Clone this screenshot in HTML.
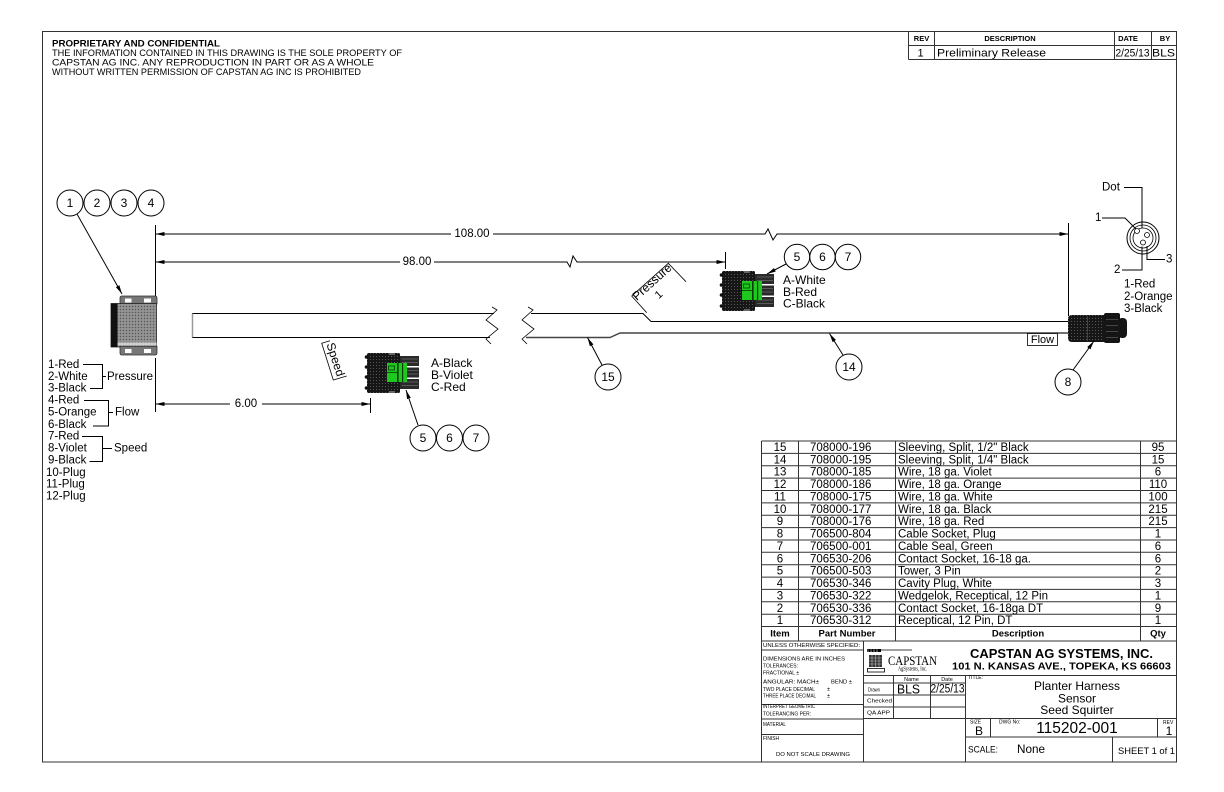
<!DOCTYPE html>
<html><head><meta charset="utf-8">
<style>
html,body{margin:0;padding:0;background:#fff;}
svg{display:block;}
text{font-family:"Liberation Sans",sans-serif;fill:#000;}
.c{text-anchor:middle;}
.m{dominant-baseline:central;}
.ln{stroke:#000;stroke-width:1;fill:none;}
.g{stroke:#333;stroke-width:1;fill:none;}
</style></head><body>
<svg width="1224" height="792" viewBox="0 0 1224 792" xmlns="http://www.w3.org/2000/svg">
<defs>
<marker id="ar" viewBox="0 0 9 4" refX="9" refY="2" markerWidth="9" markerHeight="4" orient="auto" markerUnits="userSpaceOnUse"><path d="M0,0L9,2L0,4z" fill="#000"/></marker>
<pattern id="st" width="3" height="3" patternUnits="userSpaceOnUse"><rect width="3" height="3" fill="#8a8a8a"/><rect width="1" height="1" fill="#555"/><rect x="1.5" y="1.5" width="1" height="1" fill="#b0b0b0"/></pattern>
<pattern id="bk" width="3" height="3" patternUnits="userSpaceOnUse"><rect width="3" height="3" fill="#161616"/><rect width="1" height="1" fill="#555"/></pattern>
<g id="tw">
  <rect x="0" y="0" width="33" height="40" rx="1.5" fill="url(#bk)"/>
  <circle cx="-0.5" cy="4" r="1.8" fill="#111"/>
  <circle cx="-0.5" cy="14" r="1.8" fill="#111"/>
  <circle cx="-0.5" cy="24" r="1.8" fill="#111"/>
  <circle cx="-0.5" cy="35" r="1.8" fill="#111"/>
  <rect x="33" y="3" width="19" height="10" fill="#2a2a2a"/>
  <rect x="33" y="14.5" width="19" height="10" fill="#2a2a2a"/>
  <rect x="33" y="26" width="19" height="10" fill="#2a2a2a"/>
  <path d="M35,6H51M35,9.5H51M35,17.5H51M35,21H51M35,29H51M35,32.5H51" stroke="#8a8a8a" stroke-width="0.6"/>
  <rect x="20" y="10" width="20" height="19" fill="#1ec81e"/>
  <rect x="30" y="10" width="1.6" height="19" fill="#063b06"/>
  <rect x="35" y="10" width="1.2" height="19" fill="#063b06"/>
  <rect x="21.5" y="13" width="6" height="4" fill="none" stroke="#063b06" stroke-width="0.8"/>
  <line x1="20" y1="19.5" x2="30" y2="19.5" stroke="#063b06" stroke-width="0.8"/>
  <rect x="22" y="0" width="6" height="2" fill="#666"/>
  <rect x="22" y="38" width="6" height="2" fill="#666"/>
</g>
</defs>
<rect width="1224" height="792" fill="#fff"/>

<!-- frame -->
<rect x="42.5" y="31.5" width="1134" height="730.5" class="g"/>

<!-- header -->
<text x="52" y="46.5" font-size="9.5" font-weight="bold" textLength="168" lengthAdjust="spacingAndGlyphs">PROPRIETARY AND CONFIDENTIAL</text>
<text x="52" y="56" font-size="9.5" textLength="350" lengthAdjust="spacingAndGlyphs">THE INFORMATION CONTAINED IN THIS DRAWING IS THE SOLE PROPERTY OF</text>
<text x="52" y="65.5" font-size="9.5" textLength="322" lengthAdjust="spacingAndGlyphs">CAPSTAN AG INC. ANY REPRODUCTION IN PART OR AS A WHOLE</text>
<text x="52" y="75" font-size="9.5" textLength="309" lengthAdjust="spacingAndGlyphs">WITHOUT WRITTEN PERMISSION OF CAPSTAN AG INC IS PROHIBITED</text>

<!-- rev block -->
<path class="g" d="M908.5,31.5V59.5M934.5,31.5V59.5M1114.5,31.5V59.5M1151.5,31.5V59.5M908.5,45.5H1176.5M908.5,59.5H1176.5"/>
<text x="921.5" y="41" class="c" font-size="7.5" font-weight="bold">REV</text>
<text x="1010" y="41" class="c" font-size="7.5" font-weight="bold">DESCRIPTION</text>
<text x="1128" y="41" class="c" font-size="7.5" font-weight="bold">DATE</text>
<text x="1165" y="41" class="c" font-size="7.5" font-weight="bold">BY</text>
<text x="920.5" y="56.5" class="c" font-size="11">1</text>
<text x="937" y="56.5" font-size="11" textLength="109" lengthAdjust="spacingAndGlyphs">Preliminary Release</text>
<text x="1115.5" y="56.5" font-size="11" textLength="34" lengthAdjust="spacingAndGlyphs">2/25/13</text>
<text x="1152" y="56.5" font-size="11" textLength="23" lengthAdjust="spacingAndGlyphs">BLS</text>

<!-- balloons 1-4 -->
<g stroke="#000" stroke-width="1" fill="#fff">
<circle cx="70" cy="203" r="13"/><circle cx="97" cy="203" r="13"/><circle cx="124" cy="203" r="13"/><circle cx="151" cy="203" r="13"/>
</g>
<g font-size="12" class="c">
<text x="70" y="203" class="c m">1</text><text x="97" y="203" class="c m">2</text><text x="124" y="203" class="c m">3</text><text x="151" y="203" class="c m">4</text>
</g>
<line x1="77" y1="214" x2="122" y2="294" class="ln" marker-end="url(#ar)"/>

<!-- dimension extension lines -->
<path class="ln" d="M155.5,225V297M155.5,358V412M1068.5,223V316M725.5,252V269M370.5,398V413"/>
<!-- 108 -->
<line x1="451" y1="234" x2="155.5" y2="234" class="ln" marker-end="url(#ar)"/>
<polyline points="493,234 765,234 768,229 773,240 777,234 1068.5,234" class="ln" marker-end="url(#ar)"/>
<text x="472" y="234" class="c m" font-size="11.5">108.00</text>
<!-- 98 -->
<line x1="400" y1="262" x2="155.5" y2="262" class="ln" marker-end="url(#ar)"/>
<polyline points="434,262 567,262 570,267 573,256 577,262 725.5,262" class="ln" marker-end="url(#ar)"/>
<text x="417" y="262" class="c m" font-size="11.5">98.00</text>
<!-- 6.00 -->
<line x1="230" y1="404" x2="155.5" y2="404" class="ln" marker-end="url(#ar)"/>
<line x1="262" y1="404" x2="370.5" y2="404" class="ln" marker-end="url(#ar)"/>
<text x="246" y="404" class="c m" font-size="11.5">6.00</text>

<!-- left connector -->
<path d="M120,304V298Q120,296 122,296H155Q157,296 157,298V304z" fill="#777" stroke="#333" stroke-width="0.8"/>
<rect x="125" y="298.5" width="6.5" height="4" fill="#fff"/>
<rect x="144" y="298.5" width="7" height="4" fill="#fff"/>
<rect x="111" y="303.5" width="45.5" height="43.5" fill="url(#st)" stroke="#222" stroke-width="0.8"/>
<rect x="111" y="303.5" width="6.5" height="43.5" fill="#111"/>
<rect x="117.5" y="342.5" width="39" height="3" fill="#cfcfcf"/>
<path d="M120,346.5V353Q120,355 122,355H155Q157,355 157,353V346.5z" fill="#777" stroke="#333" stroke-width="0.8"/>
<rect x="125" y="349" width="6.5" height="4" fill="#fff"/>
<rect x="144" y="349" width="7" height="4" fill="#fff"/>

<!-- left labels -->
<g font-size="11.5">
<text x="48" y="365" class="m">1-Red</text>
<text x="48" y="377" class="m">2-White</text>
<text x="48" y="388.5" class="m">3-Black</text>
<text x="48" y="400.5" class="m">4-Red</text>
<text x="48" y="412.5" class="m">5-Orange</text>
<text x="48" y="425" class="m">6-Black</text>
<text x="48" y="436.5" class="m">7-Red</text>
<text x="48" y="448.5" class="m">8-Violet</text>
<text x="48" y="460.5" class="m">9-Black</text>
<text x="46" y="473" class="m">10-Plug</text>
<text x="46" y="484.5" class="m">11-Plug</text>
<text x="46" y="496.5" class="m">12-Plug</text>
<text x="107" y="377" class="m">Pressure</text>
<text x="115" y="412.5" class="m">Flow</text>
<text x="114" y="448.5" class="m">Speed</text>
</g>
<path class="ln" d="M83,364.5H102.5V388.5H90M102.5,376.5H106M84,400.5H108.5V426H93M108.5,412.5H113M82,436.5H102.5V461.5H89.5M102.5,448.5H112"/>

<!-- sleeve left piece -->
<line x1="192" y1="313.5" x2="494" y2="313.5" class="ln"/>
<line x1="192" y1="337.5" x2="490" y2="337.5" class="ln"/>
<line x1="192.5" y1="313.5" x2="192.5" y2="337.5" stroke="#999" stroke-width="1.5"/>
<polyline points="492,307 497,310 486,320 498,329 486,339 491,344" fill="none" stroke="#000" stroke-width="0.8"/>
<!-- sleeve right piece -->
<polyline points="528,307 533,310 522,320 534,329 522,339 527,344" fill="none" stroke="#000" stroke-width="0.8"/>
<polyline points="531,313.5 643,313.5 651,321.5 1068,321.5" class="ln"/>
<polyline points="526,337.5 610,337.5 620,333 1068,333" fill="none" stroke="#444" stroke-width="1.4"/>

<!-- Speed label -->
<polyline points="330,340.7 321.7,343.3 333.3,380 346.7,376" fill="none" stroke="#000" stroke-width="0.8"/>
<text transform="translate(335.5,359.5) rotate(72)" class="c m" font-size="12">Speed</text>

<!-- Pressure label -->
<polyline points="646.7,312.7 631.7,296 668.3,263.3 686,281.7" fill="none" stroke="#000" stroke-width="0.8"/>
<text transform="translate(652,282) rotate(-42)" class="c m" font-size="12">Pressure</text>
<text transform="translate(659,295) rotate(-42)" class="c m" font-size="11">1</text>

<!-- speed connector -->
<use href="#tw" x="367" y="353"/>
<g font-size="12">
<text x="431" y="363" class="m">A-Black</text>
<text x="431" y="375" class="m">B-Violet</text>
<text x="431" y="387" class="m">C-Red</text>
</g>
<line x1="418" y1="425" x2="406" y2="390" class="ln" marker-end="url(#ar)"/>
<g stroke="#000" stroke-width="1" fill="#fff">
<circle cx="423" cy="438" r="13"/><circle cx="449.5" cy="438" r="13"/><circle cx="476" cy="438" r="13"/>
</g>
<g font-size="12"><text x="423" y="438" class="c m">5</text><text x="449.5" y="438" class="c m">6</text><text x="476" y="438" class="c m">7</text></g>

<!-- pressure connector -->
<use href="#tw" x="722" y="271"/>
<g font-size="12">
<text x="783" y="280" class="m">A-White</text>
<text x="783" y="292" class="m">B-Red</text>
<text x="783" y="303.5" class="m">C-Black</text>
</g>
<line x1="786" y1="264" x2="767" y2="274" class="ln" marker-end="url(#ar)"/>
<g stroke="#000" stroke-width="1" fill="#fff">
<circle cx="797" cy="257" r="12.7"/><circle cx="822.5" cy="257" r="12.7"/><circle cx="848" cy="257" r="12.7"/>
</g>
<g font-size="12"><text x="797" y="257" class="c m">5</text><text x="822.5" y="257" class="c m">6</text><text x="848" y="257" class="c m">7</text></g>

<!-- balloons 15, 14 -->
<line x1="602" y1="365" x2="587.5" y2="337.5" class="ln" marker-end="url(#ar)"/>
<circle cx="608" cy="377" r="13" fill="#fff" stroke="#000"/>
<text x="608" y="377" class="c m" font-size="12">15</text>
<line x1="843" y1="355" x2="829.5" y2="333.5" class="ln" marker-end="url(#ar)"/>
<circle cx="849" cy="367" r="13" fill="#fff" stroke="#000"/>
<text x="849" y="367" class="c m" font-size="12">14</text>

<!-- Flow box -->
<rect x="1027.5" y="333.5" width="30" height="12" fill="#fff" stroke="#000" stroke-width="0.8"/>
<text x="1042.5" y="339.8" class="c m" font-size="11">Flow</text>

<!-- right connector 8 -->
<path d="M1072,315H1105V342H1072Q1068,342 1068,338V319Q1068,315 1072,315z" fill="url(#bk)"/>
<rect x="1104" y="313" width="16" height="30" rx="2" fill="#151515"/>
<rect x="1118" y="318" width="9" height="20" rx="4" fill="#151515"/>
<path d="M1087.5,316V341M1106,319.5H1118M1106,325.5H1118M1106,331.5H1118M1106,337.5H1118" stroke="#555" stroke-width="0.7"/>
<line x1="1073" y1="370" x2="1094" y2="341" class="ln" marker-end="url(#ar)"/>
<circle cx="1068" cy="382" r="13" fill="#fff" stroke="#000"/>
<text x="1068" y="382" class="c m" font-size="12">8</text>

<!-- pin diagram -->
<circle cx="1143" cy="238" r="16" fill="#fff" stroke="#000" stroke-width="1"/>
<circle cx="1143" cy="238" r="13" fill="none" stroke="#000" stroke-width="0.8"/>
<circle cx="1143" cy="238" r="10" fill="none" stroke="#000" stroke-width="0.8"/>
<circle cx="1137" cy="231" r="2.5" fill="#fff" stroke="#000" stroke-width="0.8"/>
<circle cx="1147" cy="235" r="2.5" fill="#fff" stroke="#000" stroke-width="0.8"/>
<circle cx="1143" cy="242.5" r="2.5" fill="#fff" stroke="#000" stroke-width="0.8"/>
<path class="ln" stroke-width="0.8" d="M1124,187.5H1142V228M1102,218H1125L1136,229M1165,259.5H1147V246M1122,270H1142V246.5"/>
<g font-size="11.5">
<text x="1102" y="187.5" class="m">Dot</text>
<text x="1095" y="218" class="m">1</text>
<text x="1166" y="259.5" class="m">3</text>
<text x="1114" y="270" class="m">2</text>
<text x="1124" y="284.5" class="m">1-Red</text>
<text x="1124" y="297" class="m">2-Orange</text>
<text x="1124" y="309" class="m">3-Black</text>
</g>

<!-- BOM table -->
<g class="g">
<path d="M761.5,441H1176.5M761.5,453.4H1176.5M761.5,465.7H1176.5M761.5,478.1H1176.5M761.5,490.5H1176.5M761.5,502.9H1176.5M761.5,515.2H1176.5M761.5,527.6H1176.5M761.5,540H1176.5M761.5,552.3H1176.5M761.5,564.7H1176.5M761.5,577.1H1176.5M761.5,589.4H1176.5M761.5,601.8H1176.5M761.5,614.2H1176.5M761.5,626.5H1176.5M761.5,641H1176.5"/>
<path d="M761.5,441V762M798.5,441V641M895.5,441V641M1140.5,441V641"/>
</g>
<g font-size="11.5">
<text x="780" y="448" class="c m">15</text><text x="810" y="448" class="m">708000-196</text><text x="898" y="448" class="m">Sleeving, Split, 1/2" Black</text><text x="1158" y="448" class="c m">95</text>
<text x="780" y="460.3" class="c m">14</text><text x="810" y="460.3" class="m">708000-195</text><text x="898" y="460.3" class="m">Sleeving, Split, 1/4" Black</text><text x="1158" y="460.3" class="c m">15</text>
<text x="780" y="472.7" class="c m">13</text><text x="810" y="472.7" class="m">708000-185</text><text x="898" y="472.7" class="m">Wire, 18 ga. Violet</text><text x="1158" y="472.7" class="c m">6</text>
<text x="780" y="485.1" class="c m">12</text><text x="810" y="485.1" class="m">708000-186</text><text x="898" y="485.1" class="m">Wire, 18 ga. Orange</text><text x="1158" y="485.1" class="c m">110</text>
<text x="780" y="497.5" class="c m">11</text><text x="810" y="497.5" class="m">708000-175</text><text x="898" y="497.5" class="m">Wire, 18 ga. White</text><text x="1158" y="497.5" class="c m">100</text>
<text x="780" y="509.8" class="c m">10</text><text x="810" y="509.8" class="m">708000-177</text><text x="898" y="509.8" class="m">Wire, 18 ga. Black</text><text x="1158" y="509.8" class="c m">215</text>
<text x="780" y="522.2" class="c m">9</text><text x="810" y="522.2" class="m">708000-176</text><text x="898" y="522.2" class="m">Wire, 18 ga. Red</text><text x="1158" y="522.2" class="c m">215</text>
<text x="780" y="534.6" class="c m">8</text><text x="810" y="534.6" class="m">706500-804</text><text x="898" y="534.6" class="m">Cable Socket, Plug</text><text x="1158" y="534.6" class="c m">1</text>
<text x="780" y="546.9" class="c m">7</text><text x="810" y="546.9" class="m">706500-001</text><text x="898" y="546.9" class="m">Cable Seal, Green</text><text x="1158" y="546.9" class="c m">6</text>
<text x="780" y="559.3" class="c m">6</text><text x="810" y="559.3" class="m">706530-206</text><text x="898" y="559.3" class="m">Contact Socket, 16-18 ga.</text><text x="1158" y="559.3" class="c m">6</text>
<text x="780" y="571.7" class="c m">5</text><text x="810" y="571.7" class="m">706500-503</text><text x="898" y="571.7" class="m">Tower, 3 Pin</text><text x="1158" y="571.7" class="c m">2</text>
<text x="780" y="584" class="c m">4</text><text x="810" y="584" class="m">706530-346</text><text x="898" y="584" class="m">Cavity Plug, White</text><text x="1158" y="584" class="c m">3</text>
<text x="780" y="596.4" class="c m">3</text><text x="810" y="596.4" class="m">706530-322</text><text x="898" y="596.4" class="m">Wedgelok, Receptical, 12 Pin</text><text x="1158" y="596.4" class="c m">1</text>
<text x="780" y="608.8" class="c m">2</text><text x="810" y="608.8" class="m">706530-336</text><text x="898" y="608.8" class="m">Contact Socket, 16-18ga DT</text><text x="1158" y="608.8" class="c m">9</text>
<text x="780" y="621.1" class="c m">1</text><text x="810" y="621.1" class="m">706530-312</text><text x="898" y="621.1" class="m">Receptical, 12 Pin, DT</text><text x="1158" y="621.1" class="c m">1</text>
</g>
<g font-size="9.5" font-weight="bold">
<text x="780" y="634" class="c m">Item</text>
<text x="847" y="634" class="c m">Part Number</text>
<text x="1018" y="634" class="c m">Description</text>
<text x="1158" y="634" class="c m">Qty</text>
</g>

<!-- title block lines -->
<path class="g" d="M863.5,641V762M761.5,650H863.5M761.5,704.5H863.5M761.5,719H863.5M761.5,734.5H863.5M863.5,675.5H1176.5M863.5,683H965.5M863.5,695H965.5M863.5,707H965.5M863.5,718.5H1176.5M893.5,675.5V718.5M930.5,675.5V718.5M965.5,675.5V762M990.5,718.5V737M1157.5,718.5V737M965.5,737H1176.5M1112.5,737V762"/>

<!-- left title texts -->
<g font-size="5.5">
<text x="763" y="646" class="m" textLength="97" lengthAdjust="spacingAndGlyphs">UNLESS OTHERWISE SPECIFIED:</text>
<text x="763" y="659.3" class="m" textLength="82" lengthAdjust="spacingAndGlyphs">DIMENSIONS ARE IN INCHES</text>
<text x="763" y="666.7" class="m" textLength="35" lengthAdjust="spacingAndGlyphs">TOLERANCES:</text>
<text x="763" y="673.3" class="m" textLength="36" lengthAdjust="spacingAndGlyphs">FRACTIONAL ±</text>
<text x="763" y="682.7" class="m" textLength="56" lengthAdjust="spacingAndGlyphs">ANGULAR: MACH±</text>
<text x="831" y="682.7" class="m" textLength="21" lengthAdjust="spacingAndGlyphs">BEND ±</text>
<text x="763" y="690" class="m" textLength="52" lengthAdjust="spacingAndGlyphs">TWO PLACE DECIMAL</text>
<text x="827" y="690" class="m">±</text>
<text x="763" y="696.7" class="m" textLength="53" lengthAdjust="spacingAndGlyphs">THREE PLACE DECIMAL</text>
<text x="827" y="696.7" class="m">±</text>
<text x="763" y="707" class="m" textLength="52" lengthAdjust="spacingAndGlyphs">INTERPRET GEOMETRIC</text>
<text x="763" y="714.5" class="m" textLength="48" lengthAdjust="spacingAndGlyphs">TOLERANCING PER:</text>
<text x="763" y="725" class="m" textLength="23" lengthAdjust="spacingAndGlyphs">MATERIAL</text>
<text x="763" y="739" class="m" textLength="16" lengthAdjust="spacingAndGlyphs">FINISH</text>
<text x="776" y="755" class="m" textLength="74" lengthAdjust="spacingAndGlyphs">DO NOT SCALE DRAWING</text>
<text x="911.5" y="680" class="c m">Name</text>
<text x="947" y="680" class="c m">Date</text>
<text x="868" y="690.7" class="m" textLength="12" lengthAdjust="spacingAndGlyphs">Drawn</text>
<text x="867" y="701.7" class="m" textLength="25" lengthAdjust="spacingAndGlyphs">Checked</text>
<text x="867" y="713.3" class="m" textLength="23" lengthAdjust="spacingAndGlyphs">QA APP</text>
<text x="968" y="678" class="m" font-size="5">TITLE:</text>
<text x="970" y="722.7" class="m" font-size="5">SIZE</text>
<text x="999" y="722.7" class="m" font-size="5">DWG No:</text>
<text x="1163" y="723" class="m" font-size="5">REV</text>
</g>
<text x="897" y="689.5" class="m" font-size="12.5" textLength="23" lengthAdjust="spacingAndGlyphs">BLS</text>
<text x="930.5" y="689.5" class="m" font-size="11.5" textLength="34" lengthAdjust="spacingAndGlyphs">2/25/13</text>

<!-- logo -->
<rect x="867" y="649" width="14" height="3" fill="#000"/>
<path d="M868,649v3M871,649v3M874,649v3M877,649v3" stroke="#fff" stroke-width="0.7"/>
<line x1="867" y1="650" x2="912" y2="650" stroke="#000" stroke-width="0.8"/>
<rect x="869" y="655" width="13" height="12" fill="#333"/>
<path d="M869,658H882M869,661H882M869,664H882M872,655V667M875.5,655V667M879,655V667" stroke="#bbb" stroke-width="0.6"/>
<rect x="867.5" y="668.5" width="17" height="3.5" fill="none" stroke="#000" stroke-width="0.8"/>
<text x="888" y="660.5" class="m" font-size="13" textLength="49" lengthAdjust="spacingAndGlyphs" style="font-family:'Liberation Serif',serif">CAPSTAN</text>
<text x="898" y="669.5" class="m" font-size="6" textLength="29" lengthAdjust="spacingAndGlyphs" style="font-family:'Liberation Serif',serif">AgSystems, Inc.</text>

<!-- company -->
<text x="970" y="653.5" class="m" font-size="13" font-weight="bold" textLength="183" lengthAdjust="spacingAndGlyphs">CAPSTAN AG SYSTEMS, INC.</text>
<text x="952" y="666.7" class="m" font-size="10.5" font-weight="bold" textLength="219" lengthAdjust="spacingAndGlyphs">101 N. KANSAS AVE., TOPEKA, KS 66603</text>
<g font-size="12">
<text x="1077" y="686" class="c m">Planter Harness</text>
<text x="1077" y="698.3" class="c m">Sensor</text>
<text x="1077" y="710" class="c m">Seed Squirter</text>
</g>
<text x="975" y="731" class="m" font-size="12">B</text>
<text x="1077" y="728.5" class="c m" font-size="15.5">115202-001</text>
<text x="1169" y="731" class="c m" font-size="12">1</text>
<text x="968" y="750" class="m" font-size="9.5" textLength="30" lengthAdjust="spacingAndGlyphs">SCALE:</text>
<text x="1017" y="749" class="m" font-size="12" textLength="28" lengthAdjust="spacingAndGlyphs">None</text>
<text x="1118" y="751" class="m" font-size="9" textLength="57" lengthAdjust="spacingAndGlyphs">SHEET 1 of 1</text>
</svg>
</body></html>
